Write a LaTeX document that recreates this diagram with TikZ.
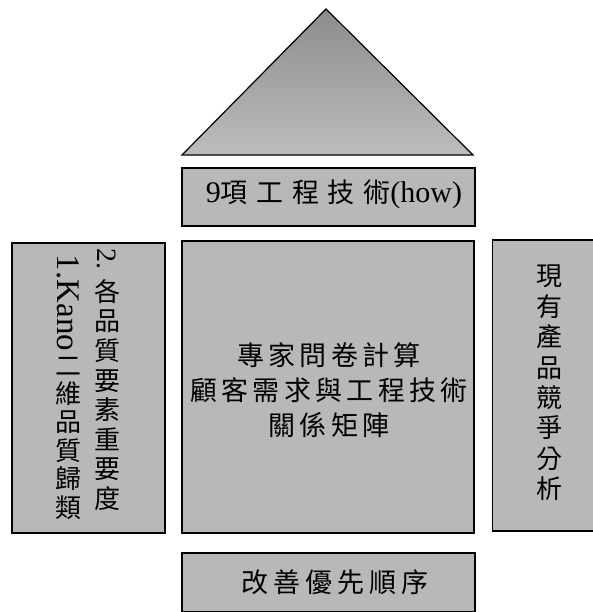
\documentclass[tikz,border=0pt]{standalone}
\usepackage{fontspec}
\setmainfont{Liberation Serif}
\newfontfamily\cjk{Noto Sans CJK TC}
\newfontfamily\cjkA[LetterSpace=16]{Noto Sans CJK TC}
\newfontfamily\cjkB[LetterSpace=32]{Noto Sans CJK TC}
\newfontfamily\cjkC[LetterSpace=18]{Noto Sans CJK TC}
\begin{document}
\begin{tikzpicture}[x=1pt,y=-1pt,
  box/.style={draw=black, line width=1.2pt, fill=black!28, inner sep=0pt},
  lbl/.style={inner sep=0pt, text=black}]
\useasboundingbox (0,0) rectangle (593,612);
\fill[white] (0,0) rectangle (593,612);
% roof
\coordinate (apex) at (326,9);
\coordinate (bl) at (182,155);
\coordinate (br) at (473,155);
\draw[line width=1.2pt, top color=black!45, bottom color=black!26] (apex) -- (br) -- (bl) -- cycle;
% boxes
\node[box, minimum width=293, minimum height=58] (how) at (328.5,197) {};
\node[box, minimum width=292, minimum height=292] (mat) at (328,387) {};
\node[box, minimum width=153, minimum height=290] (left) at (88.5,388) {};
\node[box, minimum width=103, minimum height=291] (right) at (544,385.5) {};
\node[box, minimum width=293, minimum height=58.5] (prio) at (328.5,582.25) {};
% texts
\node[lbl] (howt) at (334,194) {\fontsize{30}{30}\selectfont 9{\cjkB\fontsize{27}{30}\selectfont 項工程技術}(how)};
\node[lbl, align=center, font=\cjkA\fontsize{27}{35}\selectfont] (matt) at (329,390)
  {專家問卷計算\\顧客需求與工程技術\\關係矩陣};
\node[lbl, font=\cjkC\fontsize{27}{30}\selectfont] (priot) at (335,582) {改善優先順序};
% left box, right column
\node[lbl, rotate=-90, font=\fontsize{28}{30}\selectfont] (two) at (107,259) {2.};
\node[lbl, align=center, font=\cjk\fontsize{26}{29.6}\selectfont] (twot) at (107,395)
  {各\\品\\質\\要\\素\\重\\要\\度};
% left box, left column
\node[lbl, rotate=-90, font=\fontsize{33}{36}\selectfont] (one) at (68,303) {1.Kano};
\node[lbl, align=center, font=\cjk\fontsize{26}{28.4}\selectfont] (onet) at (68,438)
  {二\\維\\品\\質\\歸\\類};
% right box
\node[lbl, align=center, font=\cjk\fontsize{26}{30.4}\selectfont] (rt) at (549,383)
  {現\\有\\產\\品\\競\\爭\\分\\析};
\end{tikzpicture}
\end{document}
